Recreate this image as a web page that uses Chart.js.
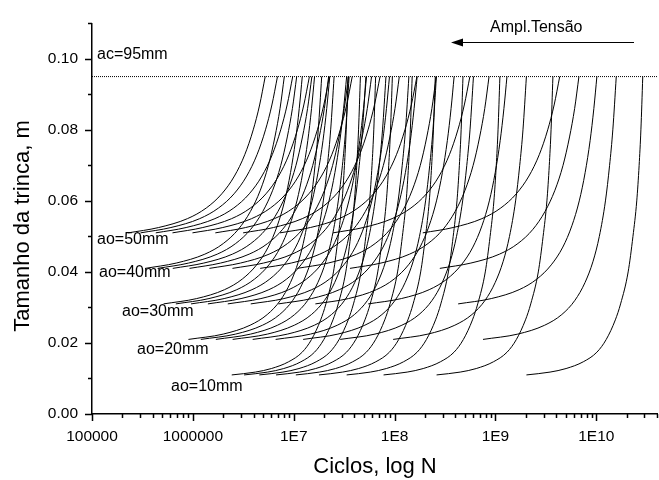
<!DOCTYPE html>
<html>
<head>
<meta charset="utf-8">
<script src="https://cdn.jsdelivr.net/npm/chart.js@4.4.0/dist/chart.umd.min.js"></script>
<style>
  html, body { margin: 0; padding: 0; background: #fff; }
  #wrap { width: 659px; height: 480px; position: relative; }
</style>
</head>
<body>
<div id="wrap"><canvas id="crackChart"></canvas></div>
<script>
// initial crack sizes (m) and their labels
const initialSizes = [0.010, 0.020, 0.030, 0.040, 0.050];
const sizeLabels = ["ao=10mm", "ao=20mm", "ao=30mm", "ao=40mm", "ao=50mm"];
const criticalSize = 0.095;

// first plotted cycle count of each curve, highest to lowest stress amplitude
const startCycles10 = [2.43e6, 3.22e6, 4.56e6, 6.68e6, 1.05e7, 1.78e7, 3.35e7, 7.78e7, 2.61e8, 2.03e9];
const startCycles20 = [9.04e5, 1.20e6, 1.69e6, 2.48e6, 3.92e6, 6.62e6, 1.24e7, 2.89e7, 9.68e7, 7.53e8];
const startCycles30 = [5.12e5, 6.78e5, 9.59e5, 1.41e6, 2.22e6, 3.75e6, 7.05e6, 1.64e7, 5.48e7, 4.27e8];
const startCycles40 = [3.37e5, 4.47e5, 6.32e5, 9.27e5, 1.46e6, 2.47e6, 4.65e6, 1.08e7, 3.61e7, 2.81e8];
const startCycles50 = [2.29e5, 3.03e5, 4.29e5, 6.28e5, 9.91e5, 1.67e6, 3.15e6, 7.31e6, 2.45e7, 1.905e8];

const refCurve10 = [[2.03e9, 0.011], [3.48e9, 0.0118], [5.02e9, 0.0128], [7.43e9, 0.0147], [1.014e10, 0.0174],
  [1.256e10, 0.021], [1.545e10, 0.0265], [1.742e10, 0.031], [2.07e10, 0.040], [2.31e10, 0.050],
  [2.52e10, 0.060], [2.66e10, 0.070], [2.77e10, 0.080], [2.89e10, 0.095]];
const refCurve20 = [[7.53e8, 0.021], [1.667e9, 0.0225], [3.08e9, 0.025], [4.55e9, 0.028], [6.14e9, 0.032],
  [7.73e9, 0.037], [9.29e9, 0.043], [1.072e10, 0.050], [1.233e10, 0.060], [1.355e10, 0.070],
  [1.459e10, 0.080], [1.578e10, 0.095]];
const refCurve30 = [[4.27e8, 0.031], [9.10e8, 0.0325], [1.718e9, 0.035], [2.58e9, 0.038], [3.58e9, 0.042],
  [4.66e9, 0.047], [5.73e9, 0.053], [6.78e9, 0.060], [7.76e9, 0.068], [8.69e9, 0.077],
  [9.46e9, 0.086], [1.014e10, 0.095]];
const refCurve40 = [[2.81e8, 0.041], [5.71e8, 0.0425], [1.096e9, 0.045], [1.671e9, 0.048], [2.355e9, 0.052],
  [3.10e9, 0.057], [3.89e9, 0.063], [4.68e9, 0.070], [5.43e9, 0.078], [6.10e9, 0.086], [6.73e9, 0.095]];
const refCurve50 = [[1.905e8, 0.051], [3.81e8, 0.0525], [7.35e8, 0.055], [1.130e9, 0.058], [1.611e9, 0.062],
  [2.15e9, 0.067], [2.72e9, 0.073], [3.30e9, 0.080], [3.82e9, 0.087], [4.34e9, 0.095]];

// axis ticks
const xMajor = [1e5, 1e6, 1e7, 1e8, 1e9, 1e10];
const xLabels = ["100000", "1000000", "1E7", "1E8", "1E9", "1E10"];
const yMajor = [0, 0.02, 0.04, 0.06, 0.08, 0.10];
const yLabels = ["0.00", "0.02", "0.04", "0.06", "0.08", "0.10"];

const starts = [startCycles10, startCycles20, startCycles30, startCycles40, startCycles50];
const refs = [refCurve10, refCurve20, refCurve30, refCurve40, refCurve50];

const datasets = [];
starts.forEach((group, g) => {
    const ref = refs[g];
    const refStart = group[group.length - 1];
    group.forEach(n0 => {
        datasets.push({
            data: ref.map(p => ({ x: p[0] * n0 / refStart, y: p[1] })),
            borderColor: "#000",
            borderWidth: 1,
            pointRadius: 0,
            showLine: true,
            cubicInterpolationMode: "monotone"
        });
    });
});
datasets.push({
    data: [{ x: 1e5, y: criticalSize }, { x: 4e10, y: criticalSize }],
    borderColor: "#000",
    borderWidth: 1,
    borderDash: [1, 1],
    pointRadius: 0,
    showLine: true
});

const FONT = "'Liberation Sans', Arial, Helvetica, sans-serif";

const tickMarks = {
    id: "tickMarks",
    afterDraw(chart) {
        const ctx = chart.ctx;
        const x = chart.scales.x, y = chart.scales.y;
        const area = chart.chartArea;
        ctx.save();
        ctx.strokeStyle = "#000";
        ctx.lineWidth = 1.5;
        ctx.beginPath();
        for (let e = 5; e <= 10; e++) {
            for (let k = 1; k <= 9; k++) {
                const v = k * Math.pow(10, e);
                if (v > 4e10) break;
                const px = Math.round(x.getPixelForValue(v)) + 0.5;
                ctx.moveTo(px, area.bottom);
                ctx.lineTo(px, area.bottom + (k === 1 ? 7 : 4));
            }
        }
        for (let i = 0; i <= 11; i++) {
            const py = Math.round(y.getPixelForValue(i * 0.01)) + 0.5;
            ctx.moveTo(area.left, py);
            ctx.lineTo(area.left - (i % 2 === 0 ? 7 : 4), py);
        }
        ctx.stroke();

        // axis titles
        ctx.fillStyle = "#000";
        ctx.font = "22px " + FONT;
        ctx.textAlign = "center";
        ctx.textBaseline = "alphabetic";
        ctx.fillText("Ciclos, log N", 375, 473);
        ctx.save();
        ctx.translate(29, 226);
        ctx.rotate(-Math.PI / 2);
        ctx.fillText("Tamanho da trinca, m", 0, 0);
        ctx.restore();

        // annotations
        ctx.font = "16px " + FONT;
        ctx.textBaseline = "middle";
        ctx.textAlign = "left";
        ctx.fillText("ac=95mm", 97, 55);
        ctx.fillText("Ampl.Tensão", 490, 28);
        const labelPos = [[171, 387], [137, 350], [122, 312], [99, 273], [97, 240]];
        sizeLabels.forEach((t, i) => ctx.fillText(t, labelPos[i][0], labelPos[i][1]));

        // arrow
        ctx.lineWidth = 1.2;
        ctx.beginPath();
        ctx.moveTo(634, 42.5);
        ctx.lineTo(458, 42.5);
        ctx.stroke();
        ctx.beginPath();
        ctx.moveTo(451, 42.5);
        ctx.lineTo(463, 38.5);
        ctx.lineTo(463, 46.5);
        ctx.closePath();
        ctx.fill();
        ctx.restore();
    }
};

new Chart(document.getElementById("crackChart"), {
    type: "scatter",
    data: { datasets },
    options: {
        responsive: true,
        maintainAspectRatio: false,
        animation: false,
        layout: { padding: { left: 0, right: 2, top: 11, bottom: 0 } },
        plugins: { legend: { display: false }, tooltip: { enabled: false } },
        scales: {
            x: {
                type: "logarithmic",
                min: 1e5,
                max: 4e10,
                afterBuildTicks: s => { s.ticks = xMajor.map(v => ({ value: v })); },
                afterFit: s => { s.height = 66; },
                grid: { display: false, drawTicks: false, tickLength: 0 },
                border: { display: true, color: "#000", width: 1.5 },
                ticks: {
                    autoSkip: false, maxRotation: 0, padding: 13, color: "#000",
                    font: { family: FONT, size: 15.5 },
                    callback: (v, i) => xLabels[i]
                }
            },
            y: {
                min: 0,
                max: 0.11,
                afterBuildTicks: s => { s.ticks = yMajor.map(v => ({ value: v })); },
                afterFit: s => { s.width = 92; },
                grid: { display: false, drawTicks: false, tickLength: 0 },
                border: { display: true, color: "#000", width: 1.5 },
                ticks: {
                    autoSkip: false, padding: 14, color: "#000",
                    font: { family: FONT, size: 15.5 },
                    callback: (v, i) => yLabels[i]
                }
            }
        }
    },
    plugins: [tickMarks]
});
</script>
</body>
</html>
